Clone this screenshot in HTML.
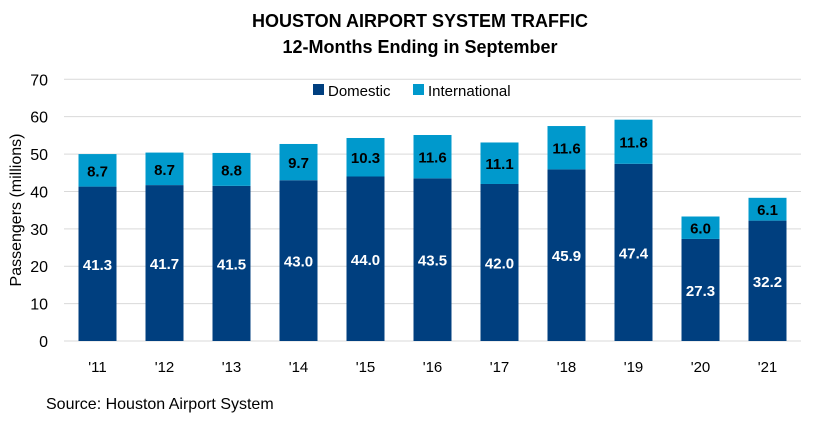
<!DOCTYPE html>
<html><head><meta charset="utf-8"><style>
body{margin:0;background:#fff;}
svg text{font-family:"Liberation Sans",sans-serif;}
</style></head><body>
<svg width="815" height="424">
<text x="420" y="27" text-anchor="middle" font-size="18" font-weight="bold" fill="#000">HOUSTON AIRPORT SYSTEM TRAFFIC</text>
<text x="420" y="53" text-anchor="middle" font-size="18" font-weight="bold" fill="#000">12-Months Ending in September</text>
<g id="grid"></g>
<g id="bars"></g>
<g>
<rect x="313" y="84" width="11" height="11" fill="#003F7F"/>
<text x="328" y="96" font-size="15">Domestic</text>
<rect x="413" y="84" width="11" height="11" fill="#0099CC"/>
<text x="428" y="96" font-size="15">International</text>
</g>
<text transform="translate(21,210) rotate(-90)" text-anchor="middle" font-size="16">Passengers (millions)</text>
<text x="46" y="409" font-size="16">Source: Houston Airport System</text>
</svg>
<script>
const categories=["'11","'12","'13","'14","'15","'16","'17","'18","'19","'20","'21"];
const domestic=[41.3,41.7,41.5,43.0,44.0,43.5,42.0,45.9,47.4,27.3,32.2];
const international=[8.7,8.7,8.8,9.7,10.3,11.6,11.1,11.6,11.8,6.0,6.1];
const yTicks=[0,10,20,30,40,50,60,70];
const NS="http://www.w3.org/2000/svg";
const x0=64,step=67,bw=38,yTop=79.3,yBot=341,yMax=70;
const y=v=>yBot-(v/yMax)*(yBot-yTop);
const xc=i=>x0+step*(i+0.5);
function mk(t,a,parent){const e=document.createElementNS(NS,t);for(const k in a)e.setAttribute(k,a[k]);parent.appendChild(e);return e;}
const grid=document.getElementById('grid'),bars=document.getElementById('bars');
yTicks.forEach(t=>{
 const l=mk('line',{x1:x0,x2:801,y1:y(t),y2:y(t),stroke:'#d9d9d9','stroke-width':1},grid);
 
 
 const tx=mk('text',{x:48,y:y(t)+6,'text-anchor':'end','font-size':16,fill:'#000'},grid);
 tx.textContent=t;
 
 
});
categories.forEach((c,i)=>{
 const cx=xc(i),d=domestic[i],n=international[i];
 const r1=mk('rect',{x:cx-bw/2,y:y(d),width:bw,height:yBot-y(d),fill:'#003F7F'},bars);
 
 
 const r2=mk('rect',{x:cx-bw/2,y:y(d+n),width:bw,height:y(d)-y(d+n),fill:'#0099CC'},bars);
 
 
 const t1=mk('text',{x:cx,y:(y(d)+yBot)/2+6,'text-anchor':'middle','font-size':15,'font-weight':'bold',fill:'#fff'},bars);
 t1.textContent=d.toFixed(1);
 
 
 const t2=mk('text',{x:cx,y:(y(d)+y(d+n))/2+6,'text-anchor':'middle','font-size':15,'font-weight':'bold',fill:'#000'},bars);
 t2.textContent=n.toFixed(1);
 
 
 const xl=mk('text',{x:cx,y:372,'text-anchor':'middle','font-size':15,fill:'#000'},bars);
 xl.textContent=c;
 
 
});
</script>
</body></html>
